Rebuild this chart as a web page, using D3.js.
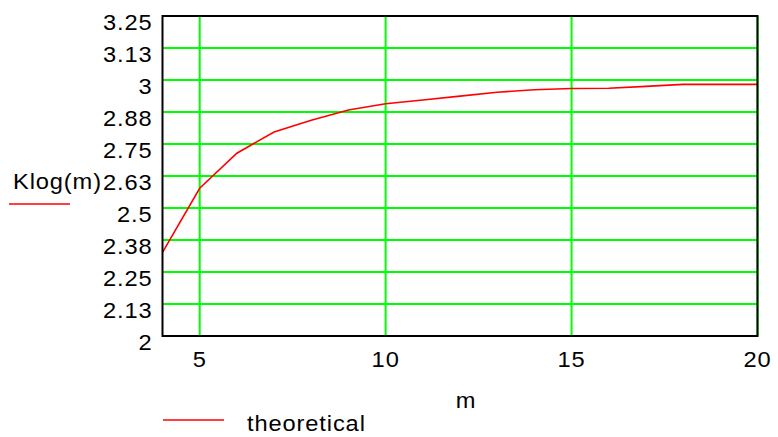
<!DOCTYPE html>
<html><head><meta charset="utf-8">
<script src="https://cdn.jsdelivr.net/npm/d3@7"></script>
<style>body{margin:0;background:#fff}svg{display:block}text{font-family:"Liberation Sans",Arial,sans-serif;fill:#000}</style>
</head><body><svg id="c" width="778" height="437"></svg>
<script>
const mVals = [4,5,6,7,8,9,10,11,12,13,14,15,16,17,18,19,20];
const kVals = [2.327,2.577,2.714,2.797,2.843,2.883,2.907,2.922,2.937,2.952,2.962,2.967,2.968,2.975,2.983,2.983,2.983];
const yTicks = [2,2.125,2.25,2.375,2.5,2.625,2.75,2.875,3,3.125,3.25];
const yTickLabels = ["2","2.13","2.25","2.38","2.5","2.63","2.75","2.88","3","3.13","3.25"];
const xTicks = [5,10,15,20];
const seriesName = "theoretical";
const yName = "Klog(m)";
const xName = "m";

const svg = d3.select("#c");
const L=162.5,R=757.5,T=16,B=336;
const x = d3.scaleLinear().domain([4,20]).range([L,R]);
const y = d3.scaleLinear().domain([2,3.25]).range([B,T]);
const fs = 21.5, sx = 1.1;

function label(px, py, txt, anchor){
  return svg.append("text")
    .attr("transform", `translate(${px},${py}) scale(${sx},1)`)
    .attr("dy","0.35em").attr("text-anchor",anchor||"start")
    .attr("letter-spacing","0.8px")
    .attr("font-size",fs).text(txt);
}

const g = svg.append("g");
g.selectAll(".hg").data(yTicks).enter().append("line")
 .attr("x1",L).attr("x2",R).attr("y1",d=>y(d)).attr("y2",d=>y(d))
 .attr("stroke","#00ff00").attr("stroke-width",2);
g.selectAll(".vg").data(xTicks).enter().append("line")
 .attr("y1",T).attr("y2",B).attr("x1",d=>x(d)).attr("x2",d=>x(d))
 .attr("stroke","#00ff00").attr("stroke-width",2);

const line = d3.line().x((d,i)=>x(mVals[i])).y(d=>y(d));
g.append("path").datum(kVals).attr("d",line).attr("fill","none")
 .attr("stroke","#ff0000").attr("stroke-width",1.6);

g.append("rect").attr("x",L).attr("y",T).attr("width",R-L).attr("height",B-T)
 .attr("fill","none").attr("stroke","#000").attr("stroke-width",2);

yTicks.forEach((d,i)=>label(152.5, y(d)+6, yTickLabels[i], "end"));
xTicks.forEach(d=>label(x(d), 359, String(d), "middle"));

label(13, 181, yName);
svg.append("line").attr("x1",9).attr("x2",70).attr("y1",204).attr("y2",204).attr("stroke","#ff0000").attr("stroke-width",1.6);
label(466, 400, xName, "middle");
svg.append("line").attr("x1",163).attr("x2",224).attr("y1",420).attr("y2",420).attr("stroke","#ff0000").attr("stroke-width",1.6);
label(247, 423, seriesName);
</script></body></html>
